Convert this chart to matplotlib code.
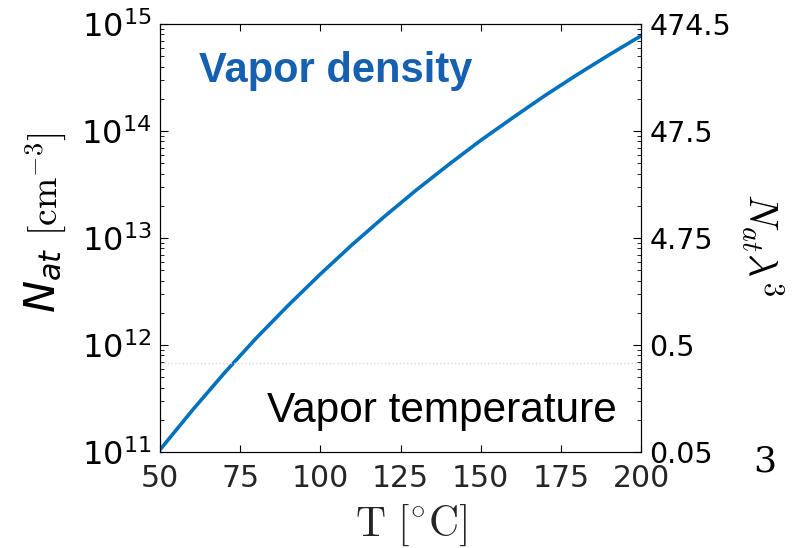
import numpy as np
import matplotlib
matplotlib.use("Agg")
import matplotlib.pyplot as plt
from matplotlib.ticker import LogLocator, NullFormatter, FixedLocator, FixedFormatter

# Vapor density
temperature_c = [50, 60, 70, 80, 90, 100, 110, 120, 130, 140, 150, 160, 170, 180, 190, 200]
vapor_density = [1.05e11, 2.44e11, 5.45e11, 1.16e12, 2.35e12, 4.60e12, 8.71e12, 1.59e13,
                 2.82e13, 4.85e13, 8.17e13, 1.33e14, 2.14e14, 3.35e14, 5.14e14, 7.76e14]

x_ticks = [50, 75, 100, 125, 150, 175, 200]
left_ticks = [1e11, 1e12, 1e13, 1e14, 1e15]
right_tick_labels = ['0.05', '0.5', '4.75', '47.5', '474.5']
ref_level = 6.8e11

plt.rcParams['mathtext.fontset'] = 'cm'

fig = plt.figure(figsize=(7.99, 5.48), dpi=100)
ax = fig.add_axes([0.2003, 0.1752, 0.602, 0.781])

ax.plot(temperature_c, vapor_density, color='#0072BD', lw=2.6)
ax.axhline(ref_level, color='#d9d9d9', lw=1, ls=':')

ax.set_yscale('log')
ax.set_xlim(50, 200)
ax.set_ylim(1e11, 1e15)
ax.set_xticks(x_ticks)
ax.set_yticks(left_ticks)
ax.yaxis.set_minor_locator(LogLocator(base=10, subs=np.arange(2, 10)))
ax.yaxis.set_minor_formatter(NullFormatter())

ax.tick_params(axis='x', which='both', direction='in', top=True, labelsize=21.5,
               labelcolor='#262626', length=5, pad=9)
ax.tick_params(axis='y', which='major', direction='in', length=6, labelsize=23, pad=6)
ax.tick_params(axis='y', which='minor', direction='in', length=3)
ax.yaxis.set_major_formatter(matplotlib.ticker.LogFormatterMathtext())
for lab in ax.get_yticklabels():
    lab.set_math_fontfamily('dejavusans')
for s in ax.spines.values():
    s.set_color('#262626')
    s.set_linewidth(0.8)

# right axis: N_at * lambda^3
ax2 = ax.twinx()
ax2.set_yscale('log')
ax2.set_ylim(ax.get_ylim())
ax2.yaxis.set_major_locator(FixedLocator(left_ticks))
ax2.yaxis.set_major_formatter(FixedFormatter(right_tick_labels))
ax2.yaxis.set_minor_locator(LogLocator(base=10, subs=np.arange(2, 10)))
ax2.yaxis.set_minor_formatter(NullFormatter())
ax2.tick_params(axis='y', which='major', direction='in', length=6, labelsize=20.5, pad=6)
ax2.tick_params(axis='y', which='minor', direction='in', length=3)

# texts
ax.text(0.08, 0.89, 'Vapor density', transform=ax.transAxes, color='#1560b0',
        fontsize=30, fontweight='bold', family='Liberation Sans', va='center')
ax.text(0.2225, 0.095, 'Vapor temperature', transform=ax.transAxes, color='black',
        fontsize=30.5, family='Liberation Sans', ha='left', va='center')

fig.text(411 / 799, 1 - 525 / 548, r'$\mathrm{T\ [^{\circ}C]}$', fontsize=30,
         ha='center', va='center', color='#262626')

# left label: sans italic N_at + serif unit
fig.text(43 / 799, 1 - 280 / 548, r'$N_{at}$', fontsize=31, rotation=90,
         ha='center', va='center', math_fontfamily='dejavusans')
fig.text(46 / 799, 1 - 184 / 548, r'$[\mathrm{cm}^{-3}]$', fontsize=27, rotation=90,
         ha='center', va='center')

fig.text(762 / 799, 1 - 245 / 548, r'$N_{at}\lambda^3$', fontsize=29, rotation=270,
         ha='center', va='center')
fig.text(765 / 799, 1 - 462 / 548, '3', fontsize=26, family='DejaVu Serif',
         ha='center', va='center')

fig.savefig('out.png', dpi=100)
